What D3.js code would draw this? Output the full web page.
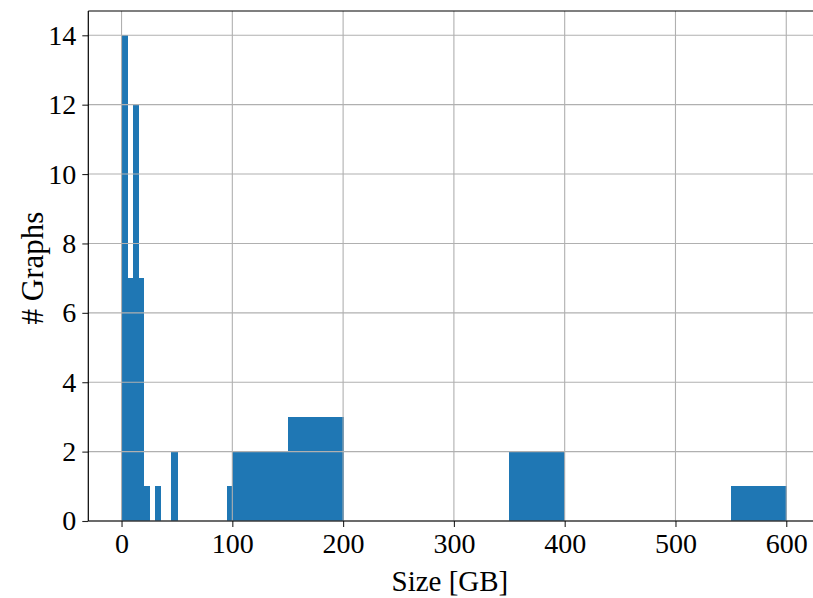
<!DOCTYPE html>
<html>
<head>
<meta charset="utf-8">
<script src="https://cdn.jsdelivr.net/npm/d3@7"></script>
<style>
  html, body { margin: 0; padding: 0; background: #fff; }
  svg { display: block; }
  text { font-family: "Liberation Serif", "DejaVu Serif", serif; fill: #000; }
</style>
</head>
<body>
<svg id="chart" width="813" height="598"></svg>
<script>
// Histogram bins (bin width 5 GB): start of each non-empty bin and its count
const binWidth = 5;
const binStarts = [0, 5, 10, 15, 20, 30, 45, 95,
  100, 105, 110, 115, 120, 125, 130, 135, 140, 145,
  150, 155, 160, 165, 170, 175, 180, 185, 190, 195,
  350, 355, 360, 365, 370, 375, 380, 385, 390, 395,
  550, 555, 560, 565, 570, 575, 580, 585, 590, 595];
const binCounts = [14, 7, 12, 7, 1, 1, 2, 1,
  2, 2, 2, 2, 2, 2, 2, 2, 2, 2,
  3, 3, 3, 3, 3, 3, 3, 3, 3, 3,
  2, 2, 2, 2, 2, 2, 2, 2, 2, 2,
  1, 1, 1, 1, 1, 1, 1, 1, 1, 1];
const xTicks = [0, 100, 200, 300, 400, 500, 600];
const yTicks = [0, 2, 4, 6, 8, 10, 12, 14];
const xLabel = "Size [GB]";
const yLabel = "# Graphs";

const bins = binStarts.map((s, i) => ({ x0: s, x1: s + binWidth, n: binCounts[i] }));

const svg = d3.select("#chart");
const mLeft = 88.3, mRight = 819.5, mTop = 11, mBottom = 521;

const x = d3.scaleLinear().domain([-30, 630]).range([mLeft, mRight]);
const y = d3.scaleLinear().domain([0, 14.7]).range([mBottom, mTop]);

// bars
svg.append("g").attr("shape-rendering", "crispEdges")
  .selectAll("rect").data(bins).join("rect")
  .attr("x", d => x(d.x0))
  .attr("width", d => x(d.x1) - x(d.x0) + 0.6)
  .attr("y", d => y(d.n))
  .attr("height", d => y(0) - y(d.n))
  .attr("fill", "#1f77b4");

// grid (drawn above bars, like matplotlib)
const grid = svg.append("g").attr("stroke", "#b0b0b0").attr("stroke-width", 1.1);
grid.selectAll("line.gx").data(xTicks).join("line").attr("class", "gx")
  .attr("x1", d => x(d)).attr("x2", d => x(d))
  .attr("y1", mTop).attr("y2", mBottom);
grid.selectAll("line.gy").data(yTicks).join("line").attr("class", "gy")
  .attr("x1", mLeft).attr("x2", mRight)
  .attr("y1", d => y(d)).attr("y2", d => y(d));

// axes
const xAxis = d3.axisBottom(x).tickValues(xTicks).tickSize(6).tickPadding(6).tickFormat(d3.format("d"));
const yAxis = d3.axisLeft(y).tickValues(yTicks).tickSize(6).tickPadding(6).tickFormat(d3.format("d"));

const gx = svg.append("g").attr("transform", `translate(0,${mBottom})`).call(xAxis);
const gy = svg.append("g").attr("transform", `translate(${mLeft},0)`).call(yAxis);
[gx, gy].forEach(g => {
  g.select(".domain").remove();
  g.selectAll(".tick line").attr("stroke", "#222").attr("stroke-width", 1.1);
  g.selectAll(".tick text").attr("font-size", 28).attr("font-family", "Liberation Serif, serif").attr("fill", "#000");
});

// spines
const sp = svg.append("g").attr("stroke", "#000").attr("stroke-width", 1.2).attr("fill", "none");
sp.append("line").attr("x1", mLeft).attr("x2", mLeft).attr("y1", mTop).attr("y2", mBottom);
sp.append("line").attr("x1", mLeft).attr("x2", mRight).attr("y1", mBottom).attr("y2", mBottom);
sp.append("line").attr("x1", mLeft).attr("x2", mRight).attr("y1", mTop).attr("y2", mTop);

// axis labels
svg.append("text").attr("x", (mLeft + mRight) / 2 - 4).attr("y", 591)
  .attr("text-anchor", "middle").attr("font-size", 29).text(xLabel);
svg.append("text").attr("transform", `translate(43,${(mTop + mBottom) / 2 + 2}) rotate(-90)`)
  .attr("text-anchor", "middle").attr("font-size", 31).text(yLabel);
</script>
</body>
</html>
